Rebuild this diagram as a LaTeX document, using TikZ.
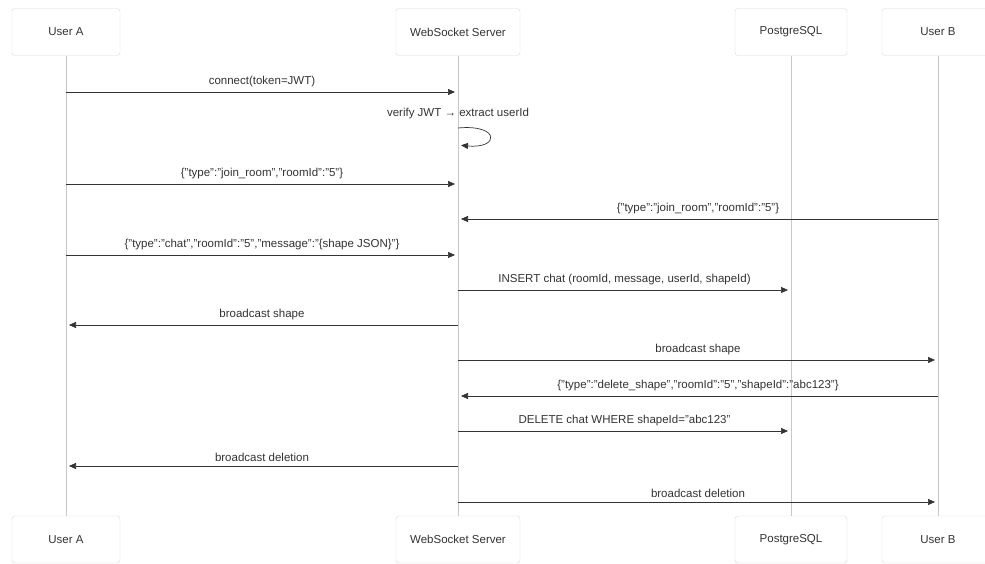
\documentclass[tikz,border=0pt]{standalone}
\usepackage{fontspec}
\setmainfont{Liberation Sans}
\usepackage{tikz}
\usetikzlibrary{positioning, arrows.meta}
\definecolor{seqText}{HTML}{333333}
\definecolor{seqBorder}{HTML}{DADADA}
\definecolor{seqLife}{HTML}{C8C8C8}
\definecolor{seqArrow}{HTML}{333333}

\begin{document}
\begin{tikzpicture}[x=1pt, y=-1pt, font=\fontsize{11.5}{13}\selectfont,
  actor/.style={draw=seqBorder, fill=white, rounded corners=3pt, minimum height=47pt, text=seqText},
  lifeline/.style={draw=seqLife, line width=0.8pt},
  msg/.style={draw=seqArrow, line width=0.7pt, shorten >=3pt, -{Triangle[length=7pt, width=6pt]}},
  msglabel/.style={above=3.5pt, text=seqText, inner sep=1pt}]
  \useasboundingbox[fill=white] (0,0) rectangle (985,564);
  % participants (top)
  \node[actor, minimum width=108pt] (uaTop) at (66,32) {User A};
  \node[actor, minimum width=124pt] (wsTop) at (458,32) {WebSocket Server};
  \node[actor, minimum width=112pt] (pgTop) at (791,32) {PostgreSQL};
  \node[actor, minimum width=112pt] (ubTop) at (938,32) {User B};
  % participants (bottom)
  \node[actor, minimum width=108pt] (uaBot) at (uaTop |- 0,539.5) {User A};
  \node[actor, minimum width=124pt] (wsBot) at (wsTop |- 0,539.5) {WebSocket Server};
  \node[actor, minimum width=112pt] (pgBot) at (pgTop |- 0,539.5) {PostgreSQL};
  \node[actor, minimum width=112pt] (ubBot) at (ubTop |- 0,539.5) {User B};
  % lifelines
  \draw[lifeline] (uaTop) -- (uaBot);
  \draw[lifeline] (wsTop) -- (wsBot);
  \draw[lifeline] (pgTop) -- (pgBot);
  \draw[lifeline] (ubTop) -- (ubBot);
  % messages
  \draw[msg] (uaTop |- 0,92) -- node[midway, msglabel] {connect(token=JWT)} (wsTop |- 0,92);
  \node[text=seqText] (verify) at (458,114) {verify JWT → extract userId};
  \draw[msg] (wsTop |- 0,128) .. controls (500,124) and (500,149) .. (wsTop |- 0,145);
  \draw[msg] (uaTop |- 0,184) -- node[midway, msglabel] {\{"type":"join\_room","roomId":"5"\}} (wsTop |- 0,184);
  \draw[msg] (ubTop |- 0,219) -- node[midway, msglabel] {\{"type":"join\_room","roomId":"5"\}} (wsTop |- 0,219);
  \draw[msg] (uaTop |- 0,255) -- node[midway, msglabel] {\{"type":"chat","roomId":"5","message":"\{shape JSON\}"\}} (wsTop |- 0,255);
  \draw[msg] (wsTop |- 0,290) -- node[midway, msglabel] {INSERT chat (roomId, message, userId, shapeId)} (pgTop |- 0,290);
  \draw[msg] (wsTop |- 0,325) -- node[midway, msglabel] {broadcast shape} (uaTop |- 0,325);
  \draw[msg] (wsTop |- 0,360) -- node[midway, msglabel] {broadcast shape} (ubTop |- 0,360);
  \draw[msg] (ubTop |- 0,396) -- node[midway, msglabel] {\{"type":"delete\_shape","roomId":"5","shapeId":"abc123"\}} (wsTop |- 0,396);
  \draw[msg] (wsTop |- 0,431) -- node[midway, msglabel] {DELETE chat WHERE shapeId="abc123"} (pgTop |- 0,431);
  \draw[msg] (wsTop |- 0,466) -- node[midway, msglabel] {broadcast deletion} (uaTop |- 0,466);
  \draw[msg] (wsTop |- 0,502) -- node[midway, msglabel] {broadcast deletion} (ubTop |- 0,502);
\end{tikzpicture}
\end{document}
